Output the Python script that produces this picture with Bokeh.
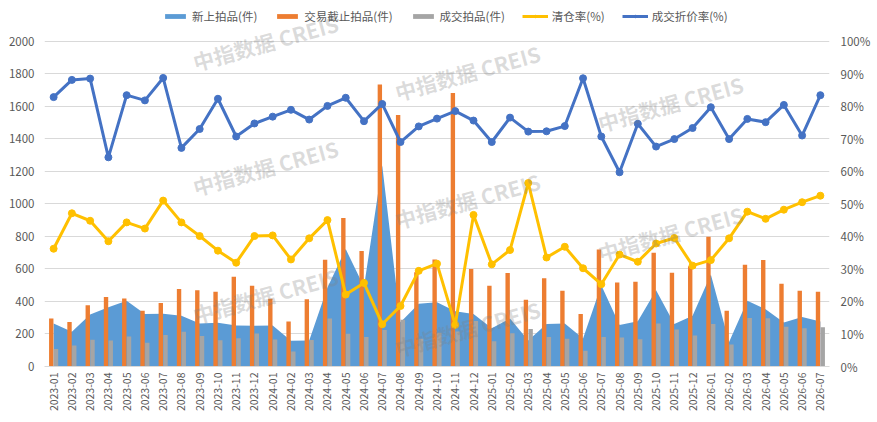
import math
from bokeh.plotting import figure
from bokeh.models import (FactorRange, Range1d, LinearAxis, NumeralTickFormatter,
                          Legend, LegendItem, Label, ColumnDataSource, FixedTicker)
from bokeh.transform import dodge
from bokeh.embed import file_html
from bokeh.resources import INLINE

# ---------------- data ----------------
months = [
    "2023-01", "2023-02", "2023-03", "2023-04", "2023-05", "2023-06", "2023-07", "2023-08",
    "2023-09", "2023-10", "2023-11", "2023-12",
    "2024-01", "2024-02", "2024-03", "2024-04", "2024-05", "2024-06", "2024-07", "2024-08",
    "2024-09", "2024-10", "2024-11", "2024-12",
    "2025-01", "2025-02", "2025-03", "2025-04", "2025-05", "2025-06", "2025-07", "2025-08",
    "2025-09", "2025-10", "2025-11", "2025-12",
    "2026-01", "2026-02", "2026-03", "2026-04", "2026-05", "2026-06", "2026-07",
]
new_listed = [265, 213, 320, 365, 404, 322, 324, 312, 265, 269, 252, 250,
              252, 158, 160, 486, 722, 490, 1235, 272, 386, 395, 340, 322,
              235, 295, 160, 262, 265, 172, 500, 255, 278, 468, 261, 312,
              565, 150, 404, 352, 271, 304, 277]
deadline = [295, 273, 377, 427, 418, 342, 390, 476, 468, 459, 552, 496,
            416, 277, 414, 656, 913, 710, 1733, 1546, 580, 658, 1682, 600,
            496, 575, 410, 542, 466, 322, 719, 517, 521, 699, 576, 617,
            798, 342, 626, 654, 509, 466, 459]
sold = [107, 129, 164, 160, 185, 146, 193, 213, 187, 162, 174, 203,
        166, 92, 163, 295, 202, 182, 225, 288, 171, 208, 215, 280,
        155, 205, 231, 181, 171, 97, 182, 178, 168, 264, 228, 191,
        261, 135, 298, 297, 245, 235, 241]
clearance_pct = [36.2, 47.1, 44.8, 38.5, 44.3, 42.4, 51.0, 44.3, 40.1, 35.6, 31.9, 40.1,
                 40.3, 32.9, 39.4, 45.0, 22.1, 25.7, 13.0, 18.6, 29.4, 31.6, 12.8, 46.6,
                 31.4, 35.8, 56.4, 33.5, 36.8, 30.2, 25.3, 34.4, 32.2, 37.8, 39.5, 31.0,
                 32.7, 39.4, 47.6, 45.4, 48.2, 50.5, 52.5]
discount_pct = [82.8, 88.1, 88.5, 64.3, 83.4, 81.8, 88.7, 67.2, 73.0, 82.3, 70.7, 74.7,
                76.8, 78.9, 75.9, 80.1, 82.6, 75.4, 80.7, 69.0, 73.8, 76.2, 78.5, 75.6,
                69.0, 76.5, 72.2, 72.3, 73.9, 88.6, 70.7, 59.7, 74.6, 67.6, 69.9, 73.3,
                79.7, 69.9, 76.1, 75.1, 80.4, 71.0, 83.4]
left_ticks = [0, 200, 400, 600, 800, 1000, 1200, 1400, 1600, 1800, 2000]
right_ticks = [0.0, 0.1, 0.2, 0.3, 0.4, 0.5, 0.6, 0.7, 0.8, 0.9, 1.0]
series_names = ["新上拍品(件)", "交易截止拍品(件)", "成交拍品(件)", "清仓率(%)", "成交折价率(%)"]
watermark_text = "中指数据 CREIS"

# ---------------- styling ----------------
FONT = "Noto Sans CJK SC"
TXT = "#595959"
C_AREA = "#5B9BD5"
C_ORANGE = "#ED7D31"
C_GRAY = "#A5A5A5"
C_YELLOW = "#FFC000"
C_BLUE = "#4472C4"

src = ColumnDataSource(dict(
    month=months, new=new_listed, deadline=deadline, sold=sold,
    clear=[v / 100 for v in clearance_pct],
    disc=[v / 100 for v in discount_pct],
))

# frame reaches the top of the figure so the legend fits inside it;
# ranges extend past the top tick to leave that room
p = figure(x_range=FactorRange(*months), y_range=Range1d(0, 2250),
           width=876, height=421, output_backend="svg", toolbar_location=None,
           min_border_left=44, min_border_right=47, min_border_top=0, min_border_bottom=55)
p.extra_y_ranges = {"pct": Range1d(0, 1.125)}
p.outline_line_color = None
p.background_fill_color = "white"
p.border_fill_color = "white"

r_area = p.varea(x="month", y1=0, y2="new", source=src, fill_color=C_AREA)
r_dead = p.vbar(x=dodge("month", -0.13, range=p.x_range), top="deadline", width=0.24,
                source=src, fill_color=C_ORANGE, line_color=None)
r_sold = p.vbar(x=dodge("month", 0.13, range=p.x_range), top="sold", width=0.24,
                source=src, fill_color=C_GRAY, line_color=None)
r_cl = p.line(x="month", y="clear", source=src, y_range_name="pct",
              line_color=C_YELLOW, line_width=3)
r_cs = p.scatter(x="month", y="clear", source=src, y_range_name="pct",
                 size=7, fill_color=C_YELLOW, line_color=C_YELLOW)
r_dl = p.line(x="month", y="disc", source=src, y_range_name="pct",
              line_color=C_BLUE, line_width=3)
r_ds = p.scatter(x="month", y="disc", source=src, y_range_name="pct",
                 size=7, fill_color=C_BLUE, line_color=C_BLUE)

# grid
p.xgrid.visible = False
p.ygrid.ticker = FixedTicker(ticks=left_ticks)
p.ygrid.grid_line_color = "#d9d9d9"
p.ygrid.grid_line_width = 1

# left axis
ly = p.yaxis[0]
ly.ticker = FixedTicker(ticks=left_ticks)
# right axis
ry = LinearAxis(y_range_name="pct", ticker=FixedTicker(ticks=right_ticks),
                formatter=NumeralTickFormatter(format="0%"))
p.add_layout(ry, "right")
for ax in (ly, ry):
    ax.axis_line_color = None
    ax.major_tick_line_color = None
    ax.minor_tick_line_color = None
    ax.major_tick_out = 0
    ax.major_tick_in = 0
    ax.minor_tick_out = 0
    ax.major_label_text_font = FONT
    ax.major_label_text_font_size = "11.5px"
    ax.major_label_text_color = TXT
ly.major_label_standoff = 10
ry.major_label_standoff = 11

xa = p.xaxis[0]
xa.major_label_orientation = math.pi / 2
xa.major_label_text_font = FONT
xa.major_label_text_font_size = "10.5px"
xa.major_label_text_color = TXT
xa.major_label_standoff = 6
xa.axis_line_color = "#d9d9d9"
xa.major_tick_line_color = None
xa.minor_tick_line_color = None
xa.major_tick_out = 0
xa.major_tick_in = 0
xa.minor_tick_out = 0

# legend inside the (extended) frame, at its top
FRAME_LEFT, FRAME_BOTTOM = 44, 366
legend = Legend(items=[
    LegendItem(label=series_names[0], renderers=[r_area]),
    LegendItem(label=series_names[1], renderers=[r_dead]),
    LegendItem(label=series_names[2], renderers=[r_sold]),
    LegendItem(label=series_names[3], renderers=[r_cl, r_cs]),
    LegendItem(label=series_names[4], renderers=[r_dl, r_ds]),
], orientation="horizontal", location=(162 - FRAME_LEFT, FRAME_BOTTOM - 24), padding=0, margin=0,
    spacing=17, label_standoff=4, glyph_width=26, glyph_height=6,
    label_height=16, border_line_alpha=0, background_fill_alpha=0,
    label_text_font=FONT, label_text_font_size="11.5px", label_text_color=TXT)
p.add_layout(legend, "center")

# watermarks (page coords of their centres -> frame screen coords)
wm_pos = [(265, 42), (265, 167), (265, 295),
          (467, 72), (467, 200), (467, 328),
          (670, 103), (670, 233)]
for (px, py) in wm_pos:
    p.add_layout(Label(x=px - FRAME_LEFT, y=FRAME_BOTTOM - py, x_units="screen", y_units="screen",
                       text=watermark_text, angle=0.27, text_align="center", text_baseline="middle",
                       text_font=FONT, text_font_size="21px", text_font_style="bold",
                       text_color="#7f7f7f", text_alpha=0.28))

open("out.html", "w").write(file_html(p, INLINE))
